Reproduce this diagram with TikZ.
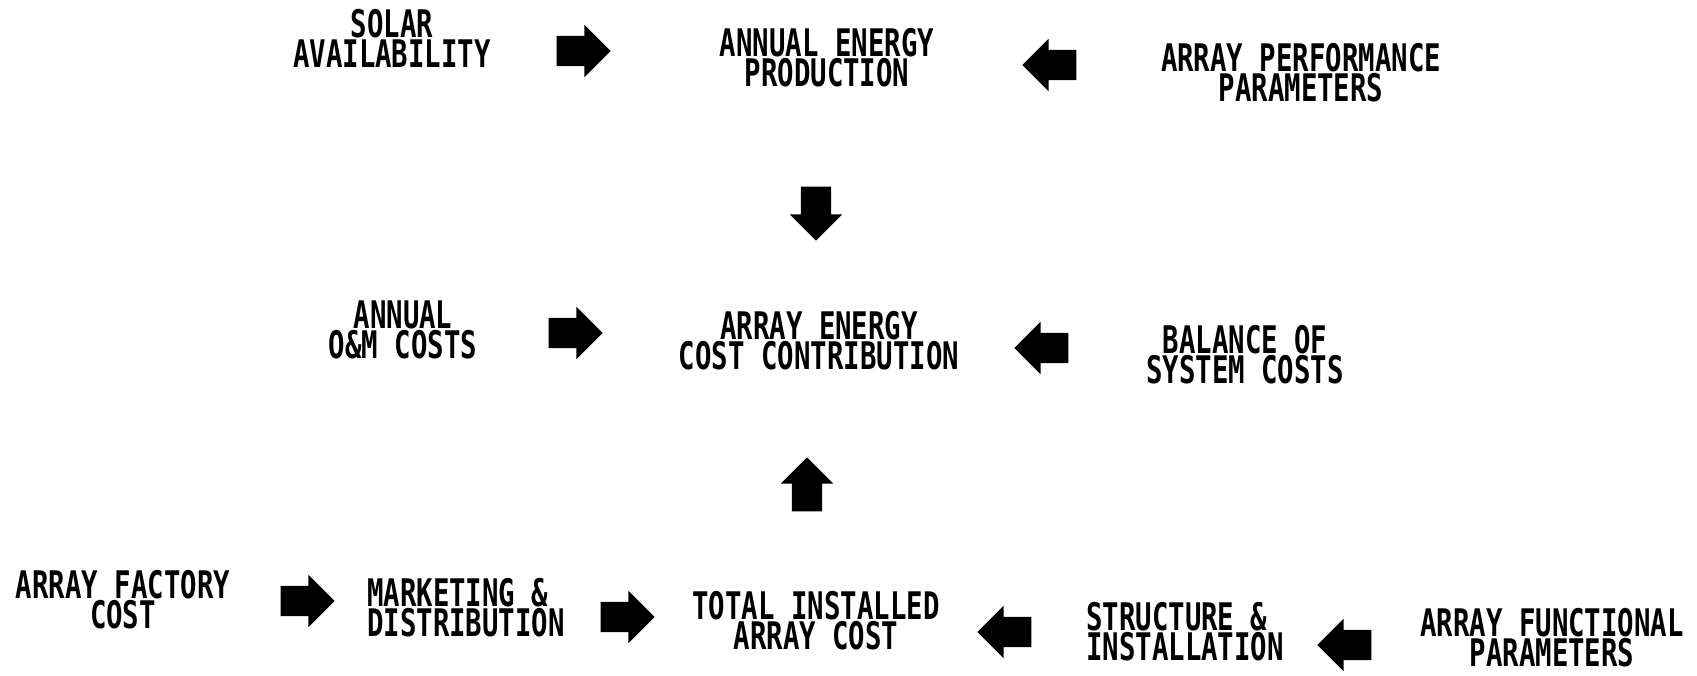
\documentclass[tikz,border=0pt]{standalone}
\usepackage{graphicx}
\usepackage{fontspec}
\setmonofont{DejaVu Sans Mono}
\usetikzlibrary{shapes.arrows}
\newcommand\twoc[2]{\scalebox{0.72}[1]{\vbox{\baselineskip=30pt\lineskiplimit=-100pt\halign{\hfil##\hfil\cr#1\cr#2\cr}}}}
\newcommand\twol[2]{\scalebox{0.72}[1]{\vbox{\baselineskip=30pt\lineskiplimit=-100pt\halign{##\hfil\cr#1\cr#2\cr}}}}
\tikzset{
  lbl/.style={inner sep=0pt, font=\fontsize{38}{30}\ttfamily\bfseries},
  blk/.style={single arrow, fill=black, draw=none, inner sep=15pt, minimum height=54pt, single arrow head extend=11pt},
  rgt/.style={blk, shape border rotate=0},
  lft/.style={blk, shape border rotate=180},
  dwn/.style={blk, shape border rotate=270},
  upp/.style={blk, shape border rotate=90}
}
\begin{document}
\begin{tikzpicture}[x=1pt,y=-1pt]
\useasboundingbox (0,0) rectangle (1697,675);
% row 1
\node[lbl] (solar) at (392,38) {\twoc{SOLAR}{AVAILABILITY}};
\node[rgt] (a1) at (576,51) {};
\node[lbl] (aep) at (827,58) {\twoc{ANNUAL ENERGY}{PRODUCTION}};
\node[lft] (a2) at (1057,65) {};
\node[lbl] (app) at (1301,73) {\twoc{ARRAY PERFORMANCE}{PARAMETERS}};
\node[dwn] (a3) at (816,206) {};
% row 2
\node[lbl] (om) at (403,330) {\twoc{ANNUAL}{O\&M COSTS}};
\node[rgt] (a4) at (568,333) {};
\node[lbl] (aecc) at (819,341) {\twoc{ARRAY ENERGY}{COST CONTRIBUTION}};
\node[lft] (a5) at (1049,348) {};
\node[lbl] (bos) at (1245,355) {\twoc{BALANCE OF}{SYSTEM COSTS}};
\node[upp] (a6) at (807,492) {};
% row 3
\node[lbl] (afc) at (123,600) {\twoc{ARRAY FACTORY}{COST}};
\node[rgt] (a7) at (300,601) {};
\node[lbl] (md) at (466,608) {\twol{MARKETING \&}{DISTRIBUTION}};
\node[rgt] (a8) at (620,617) {};
\node[lbl] (tiac) at (816,621) {\twoc{TOTAL INSTALLED}{ARRAY COST}};
\node[lft] (a9) at (1012,632) {};
\node[lbl] (si) at (1185,632) {\twol{STRUCTURE \&}{INSTALLATION}};
\node[lft] (a10) at (1352,645) {};
\node[lbl] (afp) at (1552,638) {\twoc{ARRAY FUNCTIONAL}{PARAMETERS}};
\end{tikzpicture}
\end{document}
